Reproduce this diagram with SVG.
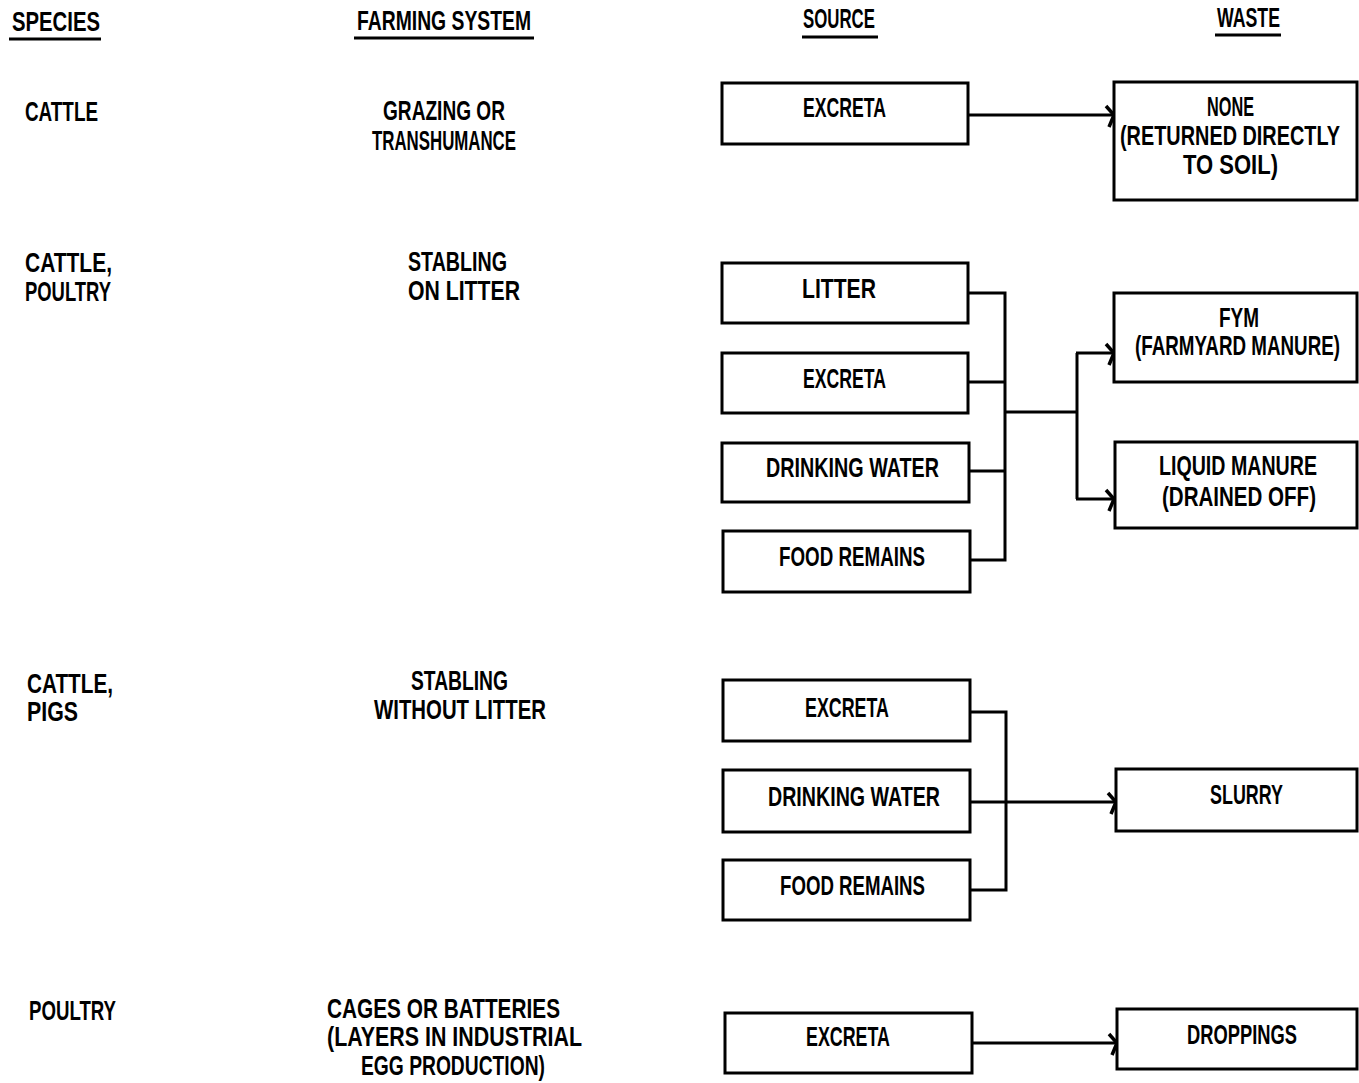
<svg xmlns="http://www.w3.org/2000/svg" width="1359" height="1083" viewBox="0 0 1359 1083">
<style>
text{font-family:"Liberation Sans","DejaVu Sans",sans-serif;font-size:28px;font-weight:bold;fill:#000;}
.box{fill:#fff;stroke:#000;stroke-width:3;}
.ln{fill:none;stroke:#000;stroke-width:3;}
.ul{stroke:#000;stroke-width:3;}
</style>
<defs>
<marker id="arr" markerWidth="16" markerHeight="28" refX="13" refY="12" orient="auto" markerUnits="userSpaceOnUse">
<path d="M5,3 L13,12 L8,24" fill="none" stroke="#000" stroke-width="3.5"/>
</marker>
</defs>
<rect width="1359" height="1083" fill="#fff"/>

<g id="headers">
<text x="12" y="31" textLength="88" lengthAdjust="spacingAndGlyphs">SPECIES</text>
<line class="ul" x1="9" y1="39" x2="101" y2="39"/>
<text x="357" y="30" textLength="174" lengthAdjust="spacingAndGlyphs">FARMING SYSTEM</text>
<line class="ul" x1="354" y1="38" x2="534" y2="38"/>
<text x="803" y="28" textLength="72" lengthAdjust="spacingAndGlyphs">SOURCE</text>
<line class="ul" x1="802" y1="37" x2="878" y2="37"/>
<text x="1217" y="27" textLength="63" lengthAdjust="spacingAndGlyphs">WASTE</text>
<line class="ul" x1="1215" y1="35" x2="1281" y2="35"/>
</g>

<g id="species">
<text x="25" y="121" textLength="73" lengthAdjust="spacingAndGlyphs">CATTLE</text>
<text x="25" y="272" textLength="87" lengthAdjust="spacingAndGlyphs">CATTLE,</text>
<text x="25" y="301" textLength="86" lengthAdjust="spacingAndGlyphs">POULTRY</text>
<text x="27" y="693" textLength="86" lengthAdjust="spacingAndGlyphs">CATTLE,</text>
<text x="27" y="721" textLength="51" lengthAdjust="spacingAndGlyphs">PIGS</text>
<text x="29" y="1020" textLength="87" lengthAdjust="spacingAndGlyphs">POULTRY</text>
</g>

<g id="farming">
<text x="383" y="120" textLength="122" lengthAdjust="spacingAndGlyphs">GRAZING OR</text>
<text x="372" y="150" textLength="144" lengthAdjust="spacingAndGlyphs">TRANSHUMANCE</text>
<text x="408" y="271" textLength="99" lengthAdjust="spacingAndGlyphs">STABLING</text>
<text x="408" y="300" textLength="112" lengthAdjust="spacingAndGlyphs">ON LITTER</text>
<text x="411" y="690" textLength="97" lengthAdjust="spacingAndGlyphs">STABLING</text>
<text x="374" y="719" textLength="172" lengthAdjust="spacingAndGlyphs">WITHOUT LITTER</text>
<text x="327" y="1018" textLength="233" lengthAdjust="spacingAndGlyphs">CAGES OR BATTERIES</text>
<text x="327" y="1046" textLength="255" lengthAdjust="spacingAndGlyphs">(LAYERS IN INDUSTRIAL</text>
<text x="361" y="1075" textLength="184" lengthAdjust="spacingAndGlyphs">EGG PRODUCTION)</text>
</g>

<g id="connectors">
<line class="ln" x1="968" y1="115" x2="1114" y2="115" marker-end="url(#arr)"/>
<polyline class="ln" points="968,293 1005,293 1005,560 968,560"/>
<line class="ln" x1="968" y1="382" x2="1005" y2="382"/>
<line class="ln" x1="968" y1="471" x2="1005" y2="471"/>
<line class="ln" x1="1005" y1="412" x2="1077" y2="412"/>
<line class="ln" x1="1077" y1="353" x2="1077" y2="499"/>
<line class="ln" x1="1076" y1="353" x2="1114" y2="353" marker-end="url(#arr)"/>
<line class="ln" x1="1076" y1="499" x2="1114" y2="499" marker-end="url(#arr)"/>
<polyline class="ln" points="970,712 1006,712 1006,890 970,890"/>
<line class="ln" x1="970" y1="802" x2="1116" y2="802" marker-end="url(#arr)"/>
<line class="ln" x1="972" y1="1043" x2="1117" y2="1043" marker-end="url(#arr)"/>
</g>

<g id="src-excreta-1">
<rect class="box" x="722" y="83" width="246" height="61"/>
<text x="803" y="117" textLength="83" lengthAdjust="spacingAndGlyphs">EXCRETA</text>
</g>
<g id="waste-none">
<rect class="box" x="1114" y="82" width="243" height="118"/>
<text x="1207" y="116" textLength="47" lengthAdjust="spacingAndGlyphs">NONE</text>
<text x="1120" y="145" textLength="220" lengthAdjust="spacingAndGlyphs">(RETURNED DIRECTLY</text>
<text x="1183" y="174" textLength="95" lengthAdjust="spacingAndGlyphs">TO SOIL)</text>
</g>

<g id="src-litter">
<rect class="box" x="722" y="263" width="246" height="60"/>
<text x="802" y="298" textLength="74" lengthAdjust="spacingAndGlyphs">LITTER</text>
</g>
<g id="src-excreta-2">
<rect class="box" x="722" y="353" width="246" height="60"/>
<text x="803" y="388" textLength="83" lengthAdjust="spacingAndGlyphs">EXCRETA</text>
</g>
<g id="src-water-2">
<rect class="box" x="722" y="443" width="247" height="59"/>
<text x="766" y="477" textLength="173" lengthAdjust="spacingAndGlyphs">DRINKING WATER</text>
</g>
<g id="src-food-2">
<rect class="box" x="723" y="531" width="247" height="61"/>
<text x="779" y="566" textLength="146" lengthAdjust="spacingAndGlyphs">FOOD REMAINS</text>
</g>
<g id="waste-fym">
<rect class="box" x="1114" y="293" width="243" height="89"/>
<text x="1219" y="327" textLength="40" lengthAdjust="spacingAndGlyphs">FYM</text>
<text x="1135" y="355" textLength="205" lengthAdjust="spacingAndGlyphs">(FARMYARD MANURE)</text>
</g>
<g id="waste-liquid">
<rect class="box" x="1115" y="442" width="242" height="86"/>
<text x="1159" y="475" textLength="158" lengthAdjust="spacingAndGlyphs">LIQUID MANURE</text>
<text x="1162" y="506" textLength="154" lengthAdjust="spacingAndGlyphs">(DRAINED OFF)</text>
</g>

<g id="src-excreta-3">
<rect class="box" x="723" y="680" width="247" height="61"/>
<text x="805" y="717" textLength="84" lengthAdjust="spacingAndGlyphs">EXCRETA</text>
</g>
<g id="src-water-3">
<rect class="box" x="723" y="770" width="247" height="62"/>
<text x="768" y="806" textLength="172" lengthAdjust="spacingAndGlyphs">DRINKING WATER</text>
</g>
<g id="src-food-3">
<rect class="box" x="723" y="860" width="247" height="60"/>
<text x="780" y="895" textLength="145" lengthAdjust="spacingAndGlyphs">FOOD REMAINS</text>
</g>
<g id="waste-slurry">
<rect class="box" x="1116" y="769" width="241" height="62"/>
<text x="1210" y="804" textLength="73" lengthAdjust="spacingAndGlyphs">SLURRY</text>
</g>

<g id="src-excreta-4">
<rect class="box" x="725" y="1013" width="247" height="60"/>
<text x="806" y="1046" textLength="84" lengthAdjust="spacingAndGlyphs">EXCRETA</text>
</g>
<g id="waste-droppings">
<rect class="box" x="1117" y="1009" width="240" height="60"/>
<text x="1187" y="1044" textLength="110" lengthAdjust="spacingAndGlyphs">DROPPINGS</text>
</g>
</svg>
